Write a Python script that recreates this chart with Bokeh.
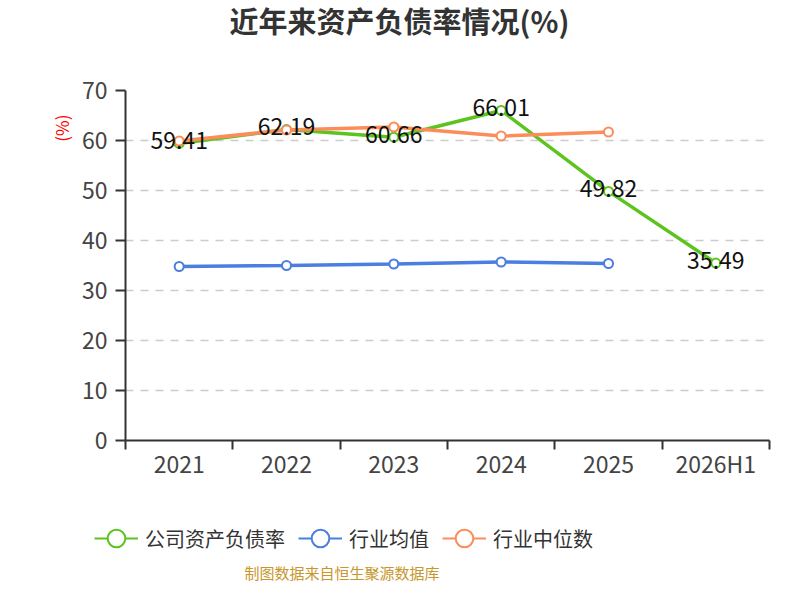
import numpy as np
from bokeh.plotting import figure
from bokeh.layouts import column
from bokeh.models import (Range1d, FixedTicker, Legend, LegendItem, Title, Label, ColumnDataSource)
from bokeh.core.properties import value
from bokeh.embed import file_html
from bokeh.resources import INLINE

categories = ["2021", "2022", "2023", "2024", "2025", "2026H1"]
company = [59.41, 62.19, 60.66, 66.01, 49.82, 35.49]
industry_avg = [34.8, 35.0, 35.3, 35.7, 35.4]
industry_median = [59.9, 62.1, 62.7, 60.9, 61.7]
y_ticks = [0, 10, 20, 30, 40, 50, 60, 70]

title_text = "近年来资产负债率情况(%)"
unit_text = "(%)"
series_names = ["公司资产负债率", "行业均值", "行业中位数"]
footer_text = "制图数据来自恒生聚源数据库"

GREEN = "#5cc41f"
BLUE = "#4a7ee0"
ORANGE = "#fc8c5a"
FONT = "Noto Sans CJK SC"


def strip(h):
    f = figure(width=784, height=h, output_backend="svg", toolbar_location=None,
               x_range=Range1d(0, 784), y_range=Range1d(0, h),
               x_axis_location=None, y_axis_location=None,
               min_border_left=0, min_border_right=0, min_border_top=0, min_border_bottom=0)
    f.frame_align = False
    f.outline_line_color = None
    f.grid.grid_line_color = None
    f.background_fill_color = "white"
    f.border_fill_color = "white"
    return f


# top strip: title
t = strip(60)
t.add_layout(Label(x=399, y=41, text=title_text, text_align="center", text_baseline="middle",
                   text_color="#333333", text_font=FONT, text_font_size="29px",
                   text_font_style="bold"))

xpos = np.arange(len(categories)) + 0.5

p = figure(width=784, height=440, output_backend="svg", toolbar_location=None,
           x_range=Range1d(0, len(categories)), y_range=Range1d(0, 70),
           min_border_left=125, min_border_right=15, min_border_top=30, min_border_bottom=60)
p.frame_align = False
p.outline_line_color = None
p.background_fill_color = "white"
p.border_fill_color = "white"

# axes
xa = p.xaxis[0]
xa.ticker = FixedTicker(ticks=list(xpos), minor_ticks=list(range(len(categories) + 1)))
xa.major_label_overrides = {float(x): c for x, c in zip(xpos, categories)}
xa.major_tick_out = 0
xa.major_tick_in = 0
xa.minor_tick_out = 9
xa.minor_tick_in = 0
xa.minor_tick_line_color = "#333333"
xa.minor_tick_line_width = 2
xa.axis_line_color = "#333333"
xa.axis_line_width = 2
xa.major_label_text_font = FONT
xa.major_label_text_font_size = "23px"
xa.major_label_text_color = "#444444"
xa.major_label_standoff = -4

ya = p.yaxis[0]
ya.ticker = FixedTicker(ticks=y_ticks)
ya.major_tick_out = 10
ya.major_tick_in = 0
ya.major_tick_line_color = "#333333"
ya.major_tick_line_width = 2
ya.minor_tick_out = 0
ya.minor_tick_in = 0
ya.axis_line_color = "#333333"
ya.axis_line_width = 2
ya.major_label_text_font = FONT
ya.major_label_text_font_size = "23px"
ya.major_label_text_color = "#444444"
ya.major_label_standoff = 8

p.xgrid.grid_line_color = None
p.ygrid.ticker = FixedTicker(ticks=y_ticks[1:])
p.ygrid.grid_line_color = "#cccccc"
p.ygrid.grid_line_dash = "8 7"
p.ygrid.grid_line_width = 1.5

# series
p.line(xpos, company, line_color=GREEN, line_width=3.5)
p.scatter(xpos, company, size=9, marker="circle", fill_color="white", line_color=GREEN, line_width=2)

n_avg = len(industry_avg)
p.line(xpos[:n_avg], industry_avg, line_color=BLUE, line_width=3.5)
p.scatter(xpos[:n_avg], industry_avg, size=9, marker="circle", fill_color="white", line_color=BLUE, line_width=2)

n_med = len(industry_median)
p.line(xpos[:n_med], industry_median, line_color=ORANGE, line_width=3.5)
p.scatter(xpos[:n_med], industry_median, size=9, marker="circle", fill_color="white", line_color=ORANGE, line_width=2)

# data labels
lbl_src = ColumnDataSource(dict(x=xpos, y=company, t=["%.2f" % v for v in company]))
p.text(x="x", y="y", text="t", source=lbl_src, text_font=value(FONT), text_font_size="23px",
       text_color="#111111", text_align="center", text_baseline="middle", y_offset=-3)

# unit label on the left
p.add_layout(Title(text=unit_text, align="right", offset=24, standoff=10, text_color="red",
                   text_font=FONT, text_font_size="17px", text_font_style="normal"), "left")

# bottom strip: legend + footer
q = strip(84)

items = []
for name, col in zip(series_names, [GREEN, BLUE, ORANGE]):
    lr = q.line([np.nan, np.nan], [np.nan, np.nan], line_color=col, line_width=2)
    sr = q.scatter([np.nan], [np.nan], marker="circle", fill_color="white", line_color=col, line_width=2)
    items.append(LegendItem(label=name, renderers=[lr, sr]))

legend = Legend(items=items, orientation="horizontal", location=(94, 24),
                glyph_width=44, glyph_height=44, label_standoff=7, spacing=13,
                padding=0, margin=0, border_line_color=None, background_fill_alpha=0,
                label_text_font=FONT, label_text_font_size="20px", label_text_color="#333333",
                label_height=44)
q.add_layout(legend, "center")

q.add_layout(Label(x=341.5, y=12, text=footer_text, text_align="center", text_baseline="middle",
                   text_color="#c8962d", text_font=FONT, text_font_size="15px"))

layout = column(t, p, q, spacing=0)
open("out.html", "w").write(file_html(layout, INLINE))
